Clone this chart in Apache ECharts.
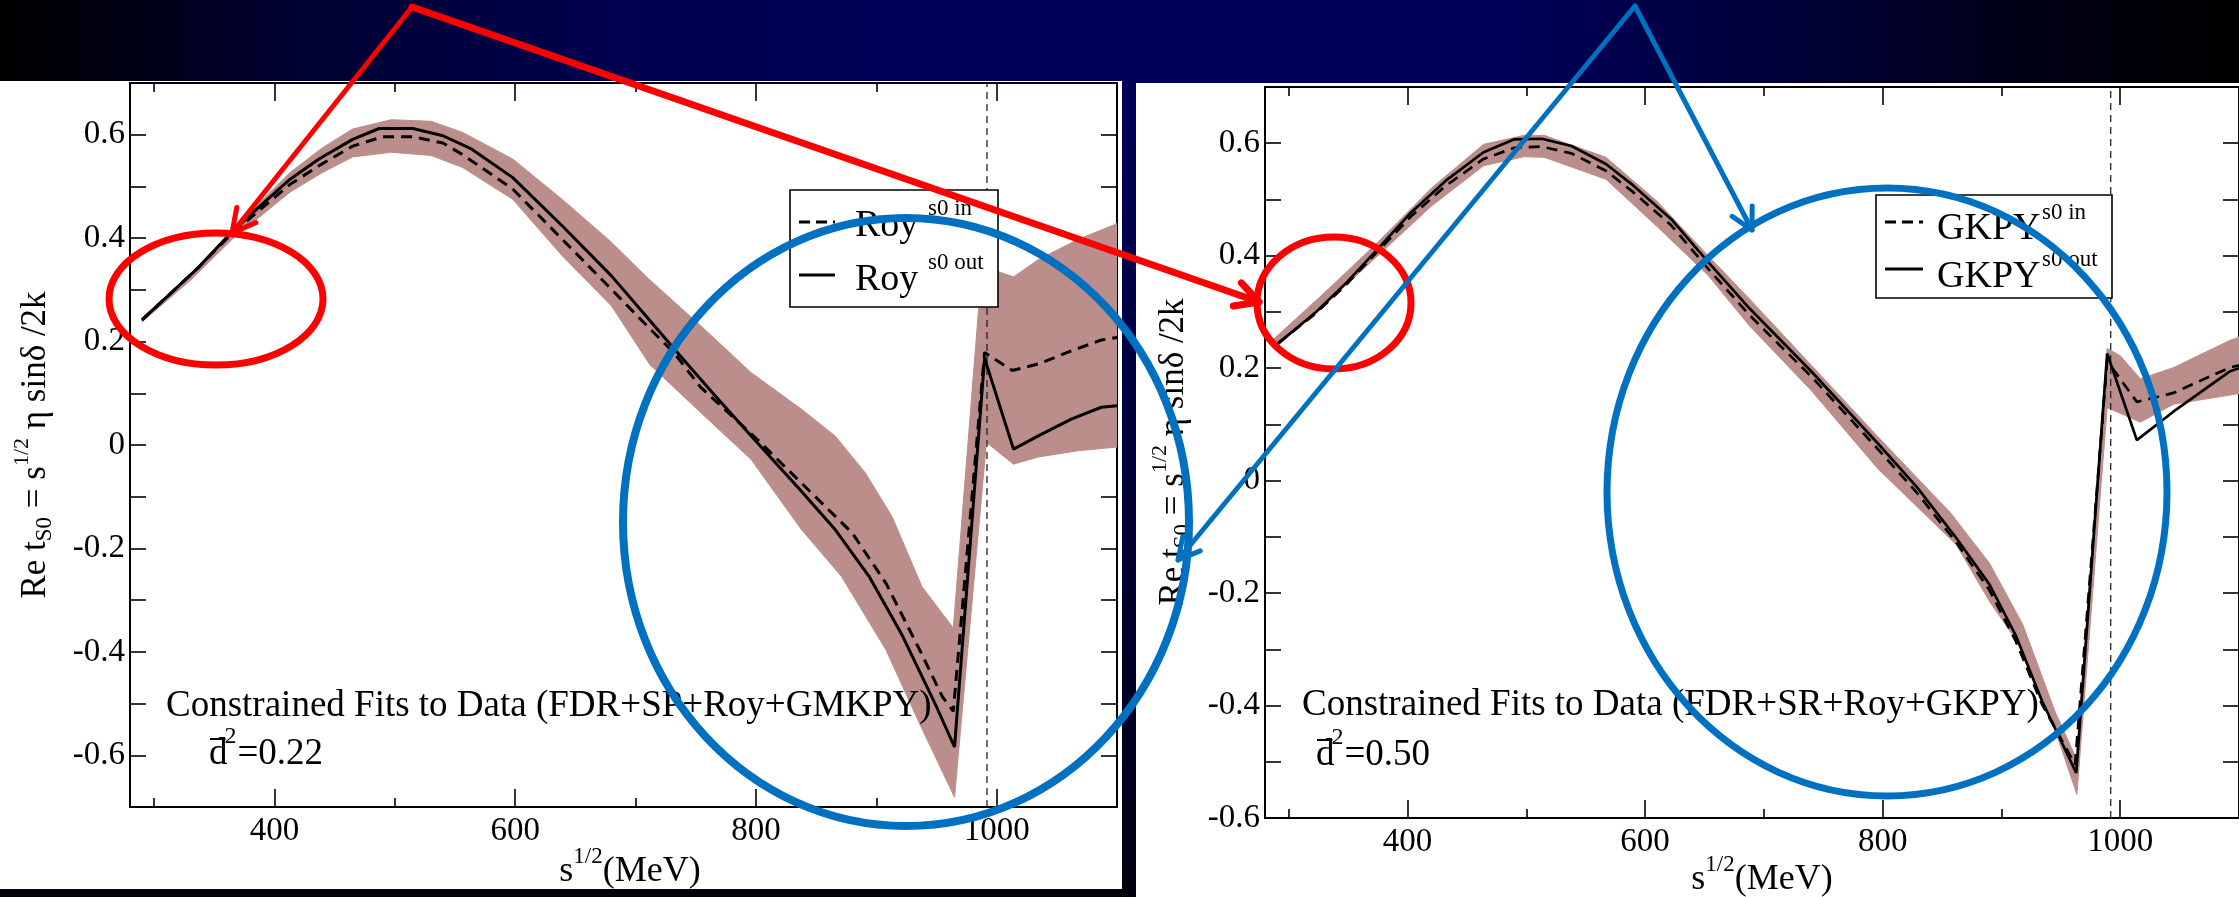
<!DOCTYPE html>
<html>
<head>
<meta charset="utf-8">
<script src="https://cdn.jsdelivr.net/npm/echarts@6/dist/echarts.min.js"></script>
<style>
  html, body { margin: 0; padding: 0; background: #000; }
  #chart { width: 2239px; height: 897px; }
</style>
</head>
<body>
<div id="chart"></div>
<script>
// ---- axis ticks ----
const X_MAJOR = [400, 600, 800, 1000];
const X_MINOR = [300, 500, 700, 900, 1100];
const THRESHOLD_MEV = 992;           // K-Kbar threshold, dashed vertical line

// ---- Roy-constrained fit: [sqrt(s) MeV, Re t] ----
const royS0In = [
  [290,0.242],[316,0.298],[338,0.346],[363,0.405],[388,0.455],[413,0.504],[437,0.540],[465,0.578],
  [490,0.596],[515,0.596],[540,0.584],[556,0.562],[598,0.495],[639,0.398],[680,0.301],[711,0.227],
  [732,0.178],[754,0.112],[801,0.011],[838,-0.074],[866,-0.138],[880,-0.170],[908,-0.267],[936,-0.396],
  [955,-0.487],[964,-0.515],[990,0.179],[1013,0.144],[1035,0.157],[1062,0.182],[1087,0.203],[1100,0.208]
];
const royS0Out = [
  [290,0.242],[316,0.298],[338,0.346],[363,0.408],[388,0.462],[413,0.514],[437,0.553],[465,0.591],
  [487,0.612],[515,0.612],[540,0.598],[564,0.572],[598,0.517],[639,0.424],[680,0.327],[711,0.243],
  [732,0.186],[765,0.098],[801,0.005],[835,-0.082],[866,-0.164],[894,-0.254],[922,-0.370],[950,-0.506],
  [965,-0.584],[990,0.168],[1014,-0.008],[1035,0.018],[1062,0.050],[1087,0.073],[1100,0.076]
];
const royBandUpper = [
  [290,0.246],[330,0.330],[365,0.416],[413,0.527],[440,0.575],[465,0.611],[497,0.629],[530,0.626],
  [556,0.605],[598,0.553],[639,0.475],[680,0.392],[711,0.321],[754,0.231],[796,0.140],[838,0.069],
  [866,0.017],[891,-0.054],[913,-0.138],[938,-0.274],[964,-0.354],[985,0.263],[999,0.337],[1014,0.325],
  [1035,0.359],[1068,0.398],[1100,0.428]
];
const royBandLower = [
  [290,0.238],[330,0.318],[365,0.398],[413,0.489],[440,0.527],[465,0.557],[497,0.566],[530,0.560],
  [556,0.537],[598,0.475],[639,0.366],[680,0.269],[712,0.155],[754,0.063],[796,-0.028],[838,-0.164],
  [871,-0.254],[908,-0.396],[936,-0.539],[965,-0.681],[991.5,0.005],[1014,-0.037],[1035,-0.023],
  [1068,-0.011],[1100,-0.004]
];

// ---- GKPY-constrained fit ----
const gkpyS0In = [
  [291,0.244],[323,0.298],[349,0.350],[375,0.408],[403,0.470],[432,0.524],[464,0.572],[490,0.592],
  [513,0.594],[538,0.582],[567,0.551],[590,0.513],[622,0.454],[653,0.377],[688,0.294],[740,0.185],
  [796,0.056],[829,-0.022],[862,-0.110],[890,-0.195],[912,-0.285],[934,-0.397],[962,-0.505],[989,0.213],
  [1014,0.140],[1045,0.156],[1092,0.201],[1100,0.205]
];
const gkpyS0Out = [
  [291,0.244],[323,0.300],[349,0.353],[375,0.412],[403,0.477],[432,0.533],[464,0.584],[490,0.607],
  [513,0.608],[538,0.595],[567,0.563],[590,0.525],[622,0.465],[653,0.389],[688,0.306],[740,0.194],
  [796,0.066],[829,-0.012],[862,-0.102],[890,-0.185],[912,-0.275],[934,-0.391],[963,-0.520],[989,0.226],
  [1014,0.072],[1045,0.123],[1092,0.194],[1100,0.200]
];
const gkpyBandUpper = [
  [288,0.253],[330,0.334],[375,0.424],[420,0.520],[464,0.598],[498,0.614],[515,0.614],[567,0.575],
  [610,0.497],[653,0.400],[688,0.323],[740,0.205],[796,0.078],[857,-0.057],[890,-0.147],[918,-0.256],
  [945,-0.410],[963,-0.494],[989,0.235],[1000,0.222],[1017,0.181],[1045,0.201],[1092,0.249],[1100,0.255]
];
const gkpyBandLower = [
  [288,0.235],[330,0.312],[375,0.400],[420,0.488],[464,0.560],[498,0.576],[515,0.575],[567,0.536],
  [610,0.452],[653,0.365],[688,0.275],[740,0.160],[796,0.021],[862,-0.114],[890,-0.215],[918,-0.301],
  [945,-0.442],[963.5,-0.558],[989,0.130],[1017,0.104],[1045,0.136],[1092,0.152],[1100,0.155]
];

// ---- texts ----
const LEFT_FIT_LABEL  = 'Constrained Fits to Data (FDR+SP+Roy+GMKPY)';
const RIGHT_FIT_LABEL = 'Constrained Fits to Data (FDR+SR+Roy+GKPY)';
const LEFT_D2 = '=0.22';
const RIGHT_D2 = '=0.50';

// ---- styling ----
const FAMILY = '"Liberation Serif", "Times New Roman", serif';
const BAND = '#bc8e8b';
const RED = '#ff0000';
const BLUE = '#0070c0';

const measureCtx = document.createElement('canvas').getContext('2d');
function measure(t, size) {
  measureCtx.font = size + 'px ' + FAMILY;
  return measureCtx.measureText(t).width;
}

// Lays out text runs (normal / sub / superscript) on one line.
function runs(parts, x0, y0, opts) {
  opts = opts || {};
  const z = opts.z || 60;
  let x = 0;
  const kids = [];
  const spans = [];
  parts.forEach(function (p) {
    const t = p[0], s = p[1], dy = p[2] || 0, dx = p[3] || 0;
    x += dx;
    const w = measure(t, s);
    kids.push({
      type: 'text', x: x, y: dy, silent: true, z: z,
      style: { text: t, font: s + 'px ' + FAMILY, fill: '#000',
               textAlign: 'left', verticalAlign: 'middle', textVerticalAlign: 'middle' }
    });
    spans.push([x, w]);
    x += w;
  });
  if (opts.center) {
    kids.forEach(function (k) { k.x -= x / 2; });
    spans.forEach(function (sp) { sp[0] -= x / 2; });
  }
  if (opts.extra) opts.extra(kids, spans, z);
  return { type: 'group', x: x0, y: y0, rotation: opts.rotation || 0, z: z, children: kids };
}

function yTitle(cx, cy) {
  return runs([
    ['Re t', 35, 0], ['S0', 23, 9], [' = s', 35, 0], ['1/2', 22, -14], [' \u03b7 sin\u03b4 /2k', 35, 0]
  ], cx, cy, { center: true, rotation: Math.PI / 2 });
}
function xTitle(cx, cy) {
  return runs([['s', 36, 0], ['1/2', 23, -15], ['(MeV)', 36, 0]], cx, cy, { center: true });
}
function d2Label(x, y, value) {
  return runs([['d', 37, 0], ['2', 24, -17, -3], [value, 37, 0, 1]], x, y, {
    extra: function (kids, spans, z) {
      const d = spans[0];
      kids.push({ type: 'line', silent: true, z: z,
        shape: { x1: d[0] + 1, y1: -15, x2: d[0] + d[1] - 2, y2: -15 },
        style: { stroke: '#000', lineWidth: 2 } });
    }
  });
}

function legendBox(x, y, w, h, name, sampleX, rows, textX, supX) {
  const els = [{
    type: 'rect', silent: true, z: 55,
    shape: { x: x, y: y, width: w, height: h },
    style: { fill: '#fff', stroke: '#000', lineWidth: 1.6 }
  }];
  rows.forEach(function (r) {
    els.push({
      type: 'line', silent: true, z: 56,
      shape: { x1: sampleX[0], y1: r.sampleY, x2: sampleX[1], y2: r.sampleY },
      style: { stroke: '#000', lineWidth: 3, lineDash: r.dashed ? [11, 6] : null }
    });
    els.push(runs([[name, 38, 0]], textX, r.textY));
    els.push(runs([[r.sup, 23, 0]], supX, r.supY));
  });
  return els;
}

function arrow(from, to, color, width, head) {
  const dx = to[0] - from[0], dy = to[1] - from[1];
  const L = Math.hypot(dx, dy);
  const bx = -dx / L, by = -dy / L;
  const a = 28 * Math.PI / 180;
  const arm = function (t) {
    return [to[0] + head * (bx * Math.cos(t) - by * Math.sin(t)),
            to[1] + head * (bx * Math.sin(t) + by * Math.cos(t))];
  };
  return [
    { type: 'line', silent: true, z: 100,
      shape: { x1: from[0], y1: from[1], x2: to[0], y2: to[1] },
      style: { stroke: color, lineWidth: width, lineCap: 'round' } },
    { type: 'polyline', silent: true, z: 100,
      shape: { points: [arm(a), to, arm(-a)] },
      style: { stroke: color, fill: null, lineWidth: width, lineCap: 'round', lineJoin: 'round' } }
  ];
}
function ring(cx, cy, rx, ry, color, width) {
  return { type: 'ellipse', silent: true, z: 99,
    shape: { cx: cx, cy: cy, rx: rx, ry: ry },
    style: { fill: null, stroke: color, lineWidth: width } };
}

// ---- axes ----
const axisLine = { show: true, onZero: false, lineStyle: { color: '#000', width: 2 } };
const noLine = { show: false, onZero: false };
const tickStyle = { color: '#000', width: 1.6 };
function yFmt(v) {
  const k = Math.round(v * 10);
  if (k % 2 !== 0) return '';
  return k === 0 ? '0' : (k / 10).toFixed(1);
}
function xFmt(v) { return String(Math.round(v)); }
function xAxesFor(g) {
  const base = { type: 'value', gridIndex: g, min: 280, max: 1100, splitLine: { show: false } };
  return [
    Object.assign({}, base, { position: 'bottom', axisLine: axisLine,
      axisTick: { inside: true, length: 18, lineStyle: tickStyle, customValues: X_MAJOR },
      axisLabel: { customValues: X_MAJOR, formatter: xFmt, fontSize: 33, fontFamily: FAMILY,
                   color: '#000', margin: 8 } }),
    Object.assign({}, base, { position: 'bottom', axisLine: noLine,
      axisTick: { inside: true, length: 9, lineStyle: tickStyle, customValues: X_MINOR },
      axisLabel: { show: false } }),
    Object.assign({}, base, { position: 'top', axisLine: axisLine,
      axisTick: { inside: true, length: 18, lineStyle: tickStyle, customValues: X_MAJOR },
      axisLabel: { show: false } }),
    Object.assign({}, base, { position: 'top', axisLine: noLine,
      axisTick: { inside: true, length: 9, lineStyle: tickStyle, customValues: X_MINOR },
      axisLabel: { show: false } })
  ];
}
function yAxesFor(g, yMin) {
  const base = { type: 'value', gridIndex: g, min: yMin, max: 0.7, interval: 0.1,
                 splitLine: { show: false }, axisLine: axisLine,
                 axisTick: { inside: true, length: 16, lineStyle: tickStyle } };
  return [
    Object.assign({}, base, { position: 'left',
      axisLabel: { formatter: yFmt, fontSize: 33, fontFamily: FAMILY, color: '#000', margin: 5 } }),
    Object.assign({}, base, { position: 'right', axisLabel: { show: false } })
  ];
}

// ---- series ----
function bandSeries(upper, lower, xi, yi) {
  return {
    type: 'custom', xAxisIndex: xi, yAxisIndex: yi, silent: true, z: 1, clip: true,
    data: [upper[0]],
    renderItem: function (params, api) {
      const pts = upper.map(function (p) { return api.coord(p); })
        .concat(lower.slice().reverse().map(function (p) { return api.coord(p); }));
      return { type: 'polygon', shape: { points: pts },
               style: { fill: BAND, stroke: BAND, lineWidth: 1 } };
    }
  };
}
function curve(name, data, xi, yi, dashed, width) {
  return { name: name, type: 'line', xAxisIndex: xi, yAxisIndex: yi, data: data,
           symbol: 'none', z: 3, silent: true,
           lineStyle: { color: '#000', width: width, type: dashed ? [11, 7] : 'solid' } };
}
function thresholdLine(xi, yi, yMin) {
  return { type: 'line', xAxisIndex: xi, yAxisIndex: yi, symbol: 'none', z: 2, silent: true,
           data: [[THRESHOLD_MEV, yMin], [THRESHOLD_MEV, 0.7]],
           lineStyle: { color: '#222', width: 1.3, type: [7, 5] } };
}

const chart = echarts.init(document.getElementById('chart'), null, { renderer: 'canvas' });

const graphics = [
  // slide background and the two white panels
  { type: 'rect', silent: true, z: -20, shape: { x: 0, y: 0, width: 2239, height: 897 },
    style: { fill: new echarts.graphic.LinearGradient(0, 0, 1, 0, [
      { offset: 0, color: '#000000' }, { offset: 0.13, color: '#000030' },
      { offset: 0.27, color: '#00004e' }, { offset: 0.45, color: '#00005c' },
      { offset: 0.66, color: '#00005c' }, { offset: 0.8, color: '#000038' },
      { offset: 0.92, color: '#000012' }, { offset: 1, color: '#000000' } ]) } },
  { type: 'rect', silent: true, z: -19, shape: { x: 1118, y: 80, width: 20, height: 817 },
    style: { fill: new echarts.graphic.LinearGradient(0, 0, 0, 1, [
      { offset: 0, color: 'rgba(0,0,0,0)' }, { offset: 1, color: 'rgba(0,0,0,0.8)' } ]) } },
  { type: 'rect', silent: true, z: -18, shape: { x: 0, y: 888, width: 1130, height: 9 },
    style: { fill: '#020208' } },
  { type: 'rect', silent: true, z: -15, shape: { x: 0, y: 81, width: 1122, height: 808 },
    style: { fill: '#ffffff' } },
  { type: 'rect', silent: true, z: -15, shape: { x: 1136, y: 83, width: 1103, height: 814 },
    style: { fill: '#ffffff' } },

  // axis titles
  yTitle(36, 445), xTitle(630, 872),
  yTitle(1174, 452), xTitle(1762, 880),

  // fit descriptions
  runs([[LEFT_FIT_LABEL, 37, 0]], 166, 706),
  d2Label(209, 754, LEFT_D2),
  runs([[RIGHT_FIT_LABEL, 37, 0]], 1302, 705),
  d2Label(1316, 755, RIGHT_D2)
]
.concat(legendBox(790, 190, 208, 117, 'Roy', [799, 835], [
  { dashed: true, sampleY: 222, textY: 226, sup: 's0 in', supY: 209 },
  { dashed: false, sampleY: 275, textY: 280, sup: 's0 out', supY: 263 }
], 855, 928))
.concat(legendBox(1876, 195, 236, 103, 'GKPY', [1885, 1923], [
  { dashed: true, sampleY: 222, textY: 229, sup: 's0 in', supY: 213 },
  { dashed: false, sampleY: 269, textY: 277, sup: 's0 out', supY: 260 }
], 1937, 2042))
// highlight rings and arrows
.concat([
  ring(216, 299, 107, 66, RED, 7),
  ring(1334, 303, 77, 66, RED, 7),
  ring(906, 522, 283, 304, BLUE, 8),
  ring(1887, 492, 280, 304, BLUE, 7)
])
.concat(arrow([412, 7], [232, 233], RED, 5, 26))
.concat(arrow([412, 7], [1259, 302], RED, 7, 26))
.concat(arrow([1635, 6], [1178, 560], BLUE, 5, 24))
.concat(arrow([1635, 6], [1752, 230], BLUE, 5, 24));

const option = {
  animation: false,
  grid: [
    { left: 130, top: 83, width: 987, height: 724, containLabel: false },
    { left: 1265, top: 87, width: 984, height: 731, containLabel: false }
  ],
  xAxis: xAxesFor(0).concat(xAxesFor(1)),
  yAxis: yAxesFor(0, -0.7).concat(yAxesFor(1, -0.6)),
  series: [
    bandSeries(royBandUpper, royBandLower, 0, 0),
    thresholdLine(0, 0, -0.7),
    curve('Roy s0 in', royS0In, 0, 0, true, 3),
    curve('Roy s0 out', royS0Out, 0, 0, false, 3),
    bandSeries(gkpyBandUpper, gkpyBandLower, 4, 2),
    thresholdLine(4, 2, -0.6),
    curve('GKPY s0 in', gkpyS0In, 4, 2, true, 2.7),
    curve('GKPY s0 out', gkpyS0Out, 4, 2, false, 2.7)
  ],
  graphic: { elements: graphics }
};
chart.setOption(option);
</script>
</body>
</html>
